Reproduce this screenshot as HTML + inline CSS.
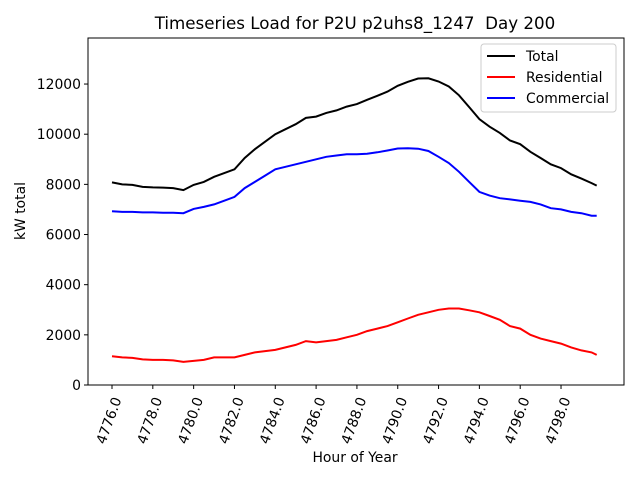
<!DOCTYPE html>
<html><head><meta charset="utf-8"><style>body{margin:0;background:#fff}svg{font-family:"DejaVu Sans","Liberation Sans",sans-serif}</style></head>
<body>
<svg id="chart" width="640" height="480" xmlns="http://www.w3.org/2000/svg">
<rect width="640" height="480" fill="#fff"/>
<text x="355" y="29" font-size="16.7" text-anchor="middle" xml:space="preserve">Timeseries Load for P2U p2uhs8_1247  Day 200</text>
<g id="plot"></g>
<text x="355" y="462" font-size="13.9" text-anchor="middle">Hour of Year</text>
<text transform="translate(25,211) rotate(-90)" font-size="13.9" text-anchor="middle">kW total</text>
<g>
<rect x="481" y="44" width="135" height="68" rx="3" fill="#fff" fill-opacity="0.8" stroke="#ccc"/>
<line x1="487" y1="56" x2="515" y2="56" stroke="#000" stroke-width="2"/><text x="526" y="61" font-size="13.9">Total</text>
<line x1="487" y1="77" x2="515" y2="77" stroke="#f00" stroke-width="2"/><text x="526" y="82" font-size="13.9">Residential</text>
<line x1="487" y1="98" x2="515" y2="98" stroke="#00f" stroke-width="2"/><text x="526" y="103" font-size="13.9">Commercial</text>
</g>
</svg>
<script>
const hours=[4776,4776.5,4777,4777.5,4778,4778.5,4779,4779.5,4780,4780.5,4781,4781.5,4782,4782.5,4783,4783.5,4784,4784.5,4785,4785.5,4786,4786.5,4787,4787.5,4788,4788.5,4789,4789.5,4790,4790.5,4791,4791.5,4792,4792.5,4793,4793.5,4794,4794.5,4795,4795.5,4796,4796.5,4797,4797.5,4798,4798.5,4799,4799.5,4799.75];
const commercial=[6930,6900,6900,6880,6880,6870,6870,6850,7020,7100,7200,7350,7500,7850,8100,8350,8600,8700,8800,8900,9000,9100,9150,9200,9200,9220,9280,9350,9430,9440,9420,9330,9100,8850,8500,8100,7700,7550,7450,7400,7350,7300,7200,7050,7000,6900,6850,6750,6750];
const residential=[1150,1100,1080,1020,1000,1000,980,920,960,1000,1100,1100,1100,1200,1300,1350,1400,1500,1600,1750,1700,1750,1800,1900,2000,2150,2250,2350,2500,2650,2800,2900,3000,3050,3050,2980,2900,2750,2600,2350,2250,2000,1850,1750,1650,1500,1380,1300,1200];
const total=commercial.map((c,i)=>c+residential[i]);
const xTicks=[4776,4778,4780,4782,4784,4786,4788,4790,4792,4794,4796,4798];
const yTicks=[0,2000,4000,6000,8000,10000,12000];
const L=88,R=624,T=38,B=385;
const xs=h=>112+(h-4776)*20.41;
const ys=v=>B-v*0.02508;
const NS="http://www.w3.org/2000/svg";
const g=document.getElementById('plot');
function el(t,a){const e=document.createElementNS(NS,t);for(const k in a)e.setAttribute(k,a[k]);g.appendChild(e);return e;}
function series(vals,color,name){
  const p=el('polyline',{points:vals.map((v,i)=>xs(hours[i]).toFixed(1)+','+ys(v).toFixed(1)).join(' '),fill:'none',stroke:color,'stroke-width':2});
  
  
}
series(total,'#000','total-line');
series(residential,'#f00','residential-line');
series(commercial,'#00f','commercial-line');
const frame=el('rect',{x:L,y:T,width:R-L,height:B-T,fill:'none',stroke:'#000','stroke-width':1});


xTicks.forEach(h=>{
  const x=xs(h);
  el('line',{x1:x,y1:B,x2:x,y2:B+4,stroke:'#000'});
  const t=el('text',{transform:`translate(${x-7},${B+60}) rotate(-70)`,'font-size':13.9});
  t.textContent=h.toFixed(1);
  
  
});
yTicks.forEach(v=>{
  const y=ys(v);
  el('line',{x1:L-4,y1:y,x2:L,y2:y,stroke:'#000'});
  const t=el('text',{x:L-7,y:y+5,'font-size':13.9,'text-anchor':'end'});
  t.textContent=v;
  
  
});
</script>
</body></html>
